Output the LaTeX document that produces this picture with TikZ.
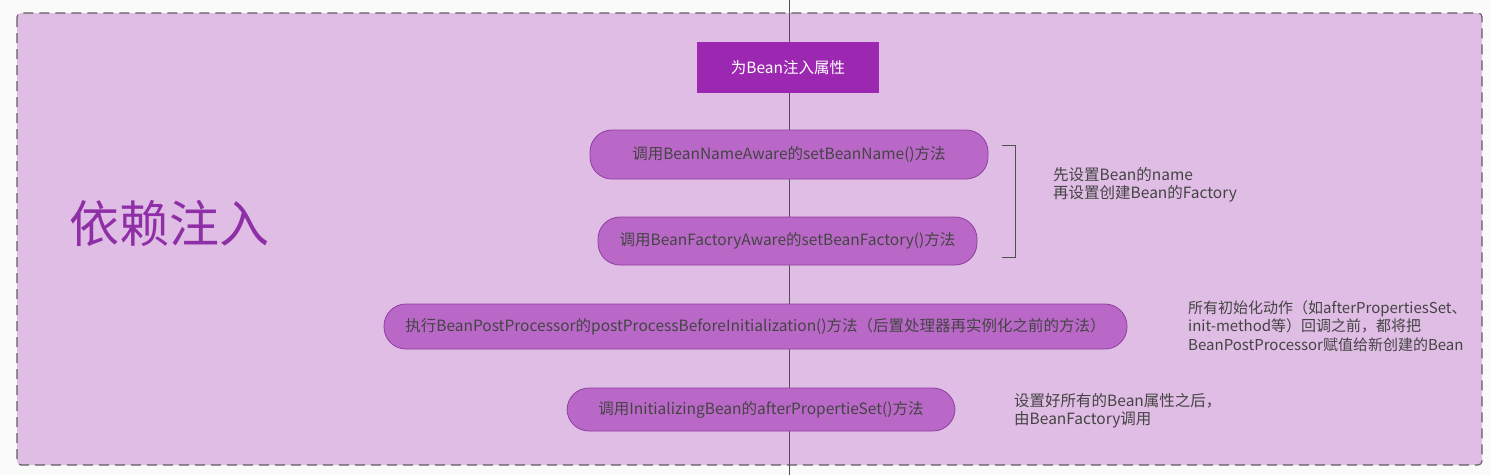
\documentclass[tikz,border=0pt]{standalone}
\usepackage{fontspec}
\setmainfont{Noto Sans CJK SC}
\newfontfamily\cjk{Noto Sans CJK SC}
\definecolor{bgout}{HTML}{FAFAFA}
\definecolor{panel}{HTML}{E0BDE4}
\definecolor{panelborder}{HTML}{5E5E5E}
\definecolor{darkbox}{HTML}{9C27B0}
\definecolor{pill}{HTML}{BA68C8}
\definecolor{pillborder}{HTML}{8E3FA0}
\definecolor{txt}{HTML}{444444}
\definecolor{title}{HTML}{8E2FA8}
\definecolor{vline}{HTML}{505050}
\tikzset{
  pillbox/.style={draw=pillborder, line width=0.8pt, fill=pill, rounded corners=22pt, text=txt, font=\cjk\fontsize{15.5}{18}\selectfont, inner sep=0pt},
  headbox/.style={fill=darkbox, text=white, font=\cjk\fontsize{15.5}{18}\selectfont, inner sep=0pt},
  note/.style={text=txt, font=\cjk\fontsize{15.5}{18.5}\selectfont, align=left, anchor=north west, inner sep=0pt},
}
\begin{document}
\begin{tikzpicture}[x=1pt,y=-1pt]
\useasboundingbox (0,0) rectangle (1490,475);
\fill[bgout] (0,0) rectangle (1490,475);
\draw[panelborder, fill=panel, dash pattern=on 10pt off 6pt, line width=1.1pt, rounded corners=4pt] (17,13) rectangle (1482,465);
\coordinate (top) at (789,0);
\coordinate (bot) at (789,475);
\draw[vline, line width=1pt] (top) -- (bot);
\node[headbox, minimum width=182pt, minimum height=51pt] (h) at (788,67.5) {为Bean注入属性};
\node[pillbox, minimum width=398pt, minimum height=49pt] (p1) at (789,154.5) {调用BeanNameAware的setBeanName()方法};
\node[pillbox, minimum width=379pt, minimum height=48pt] (p2) at (787.5,241) {调用BeanFactoryAware的setBeanFactory()方法};
\node[pillbox, minimum width=743pt, minimum height=45pt] (p3) at (755.5,326.5) {执行BeanPostProcessor的postProcessBeforeInitialization()方法（后置处理器再实例化之前的方法）};
\node[pillbox, minimum width=388pt, minimum height=43pt] (p4) at (761,409.5) {调用InitializingBean的afterPropertieSet()方法};
\coordinate (b1) at (1002,145);
\coordinate (b2) at (1015,145);
\coordinate (b3) at (1015,257);
\coordinate (b4) at (1002,257);
\draw[vline, line width=1pt] (b1) -- (b2) -- (b3) -- (b4);
\node[note] (n1) at (1053,167) {先设置Bean的name\\再设置创建Bean的Factory};
\node[note, font=\cjk\fontsize{15}{18.5}\selectfont] (n2) at (1188,300) {所有初始化动作（如afterPropertiesSet、\\init-method等）回调之前，都将把\\BeanPostProcessor赋值给新创建的Bean};
\node[note] (n3) at (1014,393) {设置好所有的Bean属性之后，\\由BeanFactory调用};
\node[text=title, font=\cjk\fontsize{50}{54}\selectfont, anchor=west, inner sep=0pt] (t) at (69,223) {依赖注入};
\end{tikzpicture}
\end{document}
